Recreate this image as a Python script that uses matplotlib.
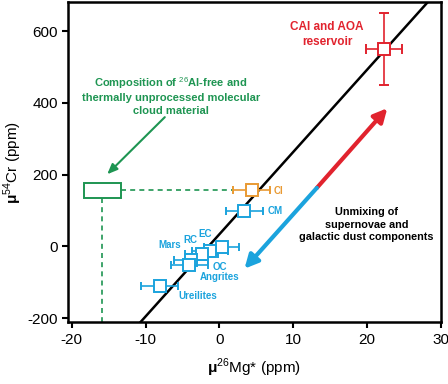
import matplotlib
matplotlib.use("Agg")
import matplotlib.pyplot as plt
from matplotlib.patches import Rectangle

plt.rcParams['font.family'] = ['Liberation Sans', 'DejaVu Sans']
plt.rcParams['mathtext.fontset'] = 'custom'
plt.rcParams['mathtext.rm'] = 'Liberation Sans'
plt.rcParams['mathtext.bf'] = 'Liberation Sans:bold'
plt.rcParams['axes.unicode_minus'] = False

BLUE = '#1BA3DD'
RED = '#E1232E'
ORANGE = '#E99A33'
GREEN = '#1E9552'

# meteorite groups
names = ['EC', 'RC', 'Mars', 'OC', 'Angrites', 'Ureilites', 'CM']
mg = [0.3, -1.3, -2.4, -3.9, -4.1, -8.1, 3.4]
mg_err = [2.4, 2.4, 2.2, 2.3, 2.5, 2.5, 2.5]
cr = [-2, -12, -20, -38, -52, -111, 98]
cr_err = [8, 15, 10, 12, 10, 6, 6]

ci_mg, ci_mg_err, ci_cr, ci_cr_err = 4.4, 2.5, 156, 6
cai_mg, cai_mg_err, cai_cr, cai_cr_err = 22.3, 2.4, 550, 100

# correlation line
line_x = [-12, 30]
slope, intercept = 22.9, 34

# 26Al-free component
cloud_mg, cloud_mg_w = -15.9, 5.0
cloud_cr, cloud_cr_h = 156, 40

fig = plt.figure(figsize=(4.48, 3.84), dpi=100)
ax = fig.add_axes([0.152, 0.161, 0.832, 0.834])

ax.plot(line_x, [slope * x + intercept for x in line_x], color='black', lw=1.8, zorder=2)

# mixing arrows
ax.annotate('', xy=(22.75, 385), xytext=(13.2, 163),
            arrowprops=dict(arrowstyle='-|>,head_length=0.8,head_width=0.4', color=RED, lw=3, shrinkA=0, shrinkB=0))
ax.annotate('', xy=(3.4, -62), xytext=(13.2, 163),
            arrowprops=dict(arrowstyle='-|>,head_length=0.8,head_width=0.4', color=BLUE, lw=3, shrinkA=0, shrinkB=0))

# cloud material box and guides
ax.add_patch(Rectangle((cloud_mg - cloud_mg_w / 2, cloud_cr - cloud_cr_h / 2), cloud_mg_w, cloud_cr_h,
                       facecolor='white', edgecolor=GREEN, lw=1.4, zorder=4))
ax.plot([cloud_mg + cloud_mg_w / 2, ci_mg - ci_mg_err], [cloud_cr, cloud_cr], color=GREEN, ls=(0, (3, 2.5)), lw=1.2)
ax.plot([cloud_mg, cloud_mg], [cloud_cr - cloud_cr_h / 2, -230], color=GREEN, ls=(0, (3, 2.5)), lw=1.2)
ax.annotate('', xy=(-15.2, 201), xytext=(-7.4, 360),
            arrowprops=dict(arrowstyle='-|>,head_length=0.6,head_width=0.25', color=GREEN, lw=1.5, shrinkA=0, shrinkB=0))

ax.errorbar(mg, cr, xerr=mg_err, yerr=cr_err, fmt='s', ms=8.5, mfc='white', mec=BLUE, mew=1.4,
            ecolor=BLUE, elinewidth=1.2, capsize=3, capthick=1.2, zorder=5)
ax.errorbar([ci_mg], [ci_cr], xerr=[ci_mg_err], yerr=[ci_cr_err], fmt='s', ms=8.5, mfc='white', mec=ORANGE,
            mew=1.4, ecolor=ORANGE, elinewidth=1.2, capsize=3, capthick=1.2, zorder=5)
ax.errorbar([cai_mg], [cai_cr], xerr=[cai_mg_err], yerr=[cai_cr_err], fmt='s', ms=8, mfc='white', mec=RED,
            mew=1.4, ecolor=RED, elinewidth=1.2, capsize=3.5, capthick=1.2, zorder=5)

lab = dict(fontsize=7, fontweight='bold', color=BLUE)
ax.text(8.0, 155, 'CI', fontsize=7, fontweight='bold', color=ORANGE, ha='center', va='center')
ax.text(6.5, 100, 'CM', ha='left', va='center', **lab)
ax.text(-5.2, 3, 'Mars', ha='right', va='center', **lab)
ax.text(-3.9, 19, 'RC', ha='center', va='center', **lab)
ax.text(-1.9, 35, 'EC', ha='center', va='center', **lab)
ax.text(0.05, -58, 'OC', ha='center', va='center', **lab)
ax.text(0.0, -86, 'Angrites', ha='center', va='center', **lab)
ax.text(-3.0, -139, 'Ureilites', ha='center', va='center', **lab)

ax.text(14.6, 590, 'CAI and AOA\nreservoir', color=RED, fontsize=8.5, fontweight='bold',
        ha='center', va='center', linespacing=1.3)
ax.text(-6.6, 421, 'Composition of $^{26}$Al-free and\nthermally unprocessed molecular\ncloud material',
        color=GREEN, fontsize=8, fontweight='bold', ha='center', va='center', linespacing=1.3)
ax.text(19.9, 60, 'Unmixing of\nsupernovae and\ngalactic dust components', color='black', fontsize=7.8,
        fontweight='bold', ha='center', va='center', linespacing=1.3)

ax.set_xlim(-20.5, 30)
ax.set_ylim(-211, 681)
ax.set_xticks([-20, -10, 0, 10, 20, 30])
ax.set_yticks([-200, 0, 200, 400, 600])
ax.tick_params(labelsize=11, width=1.5, length=4, direction='out')
for s in ax.spines.values():
    s.set_linewidth(1.8)

ax.set_xlabel(r'$\mathbf{\mu}^{26}$Mg* (ppm)', fontsize=11, labelpad=7)
ax.set_ylabel(r'$\mathbf{\mu}^{54}$Cr (ppm)', fontsize=11, labelpad=2)

fig.savefig('out.png', dpi=100)
